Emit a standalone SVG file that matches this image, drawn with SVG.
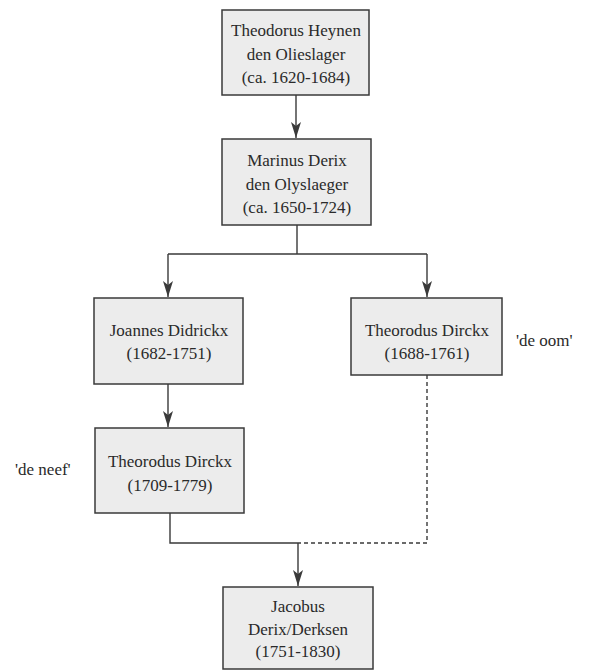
<svg xmlns="http://www.w3.org/2000/svg" width="595" height="670" viewBox="0 0 595 670">
<defs>
<style>
.box{fill:#ececec;stroke:#3a3a3a;stroke-width:1.5}
.t{font-family:"Liberation Serif","Times New Roman",serif;font-size:17px;fill:#2a2a2a;text-anchor:middle}
.l{font-family:"Liberation Serif","Times New Roman",serif;font-size:17px;fill:#2a2a2a}
.c{fill:none;stroke:#3a3a3a;stroke-width:1.4}
.d{fill:none;stroke:#3a3a3a;stroke-width:1.4;stroke-dasharray:4 3}
</style>
</defs>
<g id="connectors">
<path class="c" d="M296,95 V138"/>
<path class="c" d="M297,225 V254 M168,254 H427"/>
<path class="c" d="M168,254 V297"/>
<path class="c" d="M427,254 V297"/>
<path class="c" d="M168,384 V427"/>
<path class="c" d="M170,513 V543 H298"/>
<path class="d" d="M427,375 V543 H298"/>
<path class="c" d="M298,543 V586"/>
<g fill="#3a3a3a">
<path d="M291,122 L296,126 L301,122 L296,138 Z"/>
<path d="M163,281 L168,285 L173,281 L168,297 Z"/>
<path d="M422,281 L427,285 L432,281 L427,297 Z"/>
<path d="M163,411 L168,415 L173,411 L168,427 Z"/>
<path d="M293,570 L298,574 L303,570 L298,586 Z"/>
</g>
</g>
<g id="n1">
<rect class="box" x="222" y="10" width="147" height="85"/>
<text class="t" x="296" y="36">Theodorus Heynen</text>
<text class="t" x="296" y="60">den Olieslager</text>
<text class="t" x="296" y="83">(ca. 1620-1684)</text>
</g>
<g id="n2">
<rect class="box" x="222" y="139" width="149" height="86"/>
<text class="t" x="297" y="166">Marinus Derix</text>
<text class="t" x="297" y="190">den Olyslaeger</text>
<text class="t" x="297" y="213">(ca. 1650-1724)</text>
</g>
<g id="n3">
<rect class="box" x="94" y="298" width="149" height="86"/>
<text class="t" x="169" y="336">Joannes Didrickx</text>
<text class="t" x="169" y="359">(1682-1751)</text>
</g>
<g id="n4">
<rect class="box" x="351" y="298" width="151" height="77"/>
<text class="t" x="427" y="336">Theorodus Dirckx</text>
<text class="t" x="427" y="359">(1688-1761)</text>
</g>
<g id="n5">
<rect class="box" x="95" y="428" width="149" height="85"/>
<text class="t" x="170" y="467">Theorodus Dirckx</text>
<text class="t" x="170" y="491">(1709-1779)</text>
</g>
<g id="n6">
<rect class="box" x="223" y="587" width="150" height="82"/>
<text class="t" x="298" y="612">Jacobus</text>
<text class="t" x="298" y="635">Derix/Derksen</text>
<text class="t" x="298" y="657">(1751-1830)</text>
</g>
<g id="labels">
<text class="l" x="516" y="346">'de oom'</text>
<text class="l" x="15" y="475">'de neef'</text>
</g>
</svg>
